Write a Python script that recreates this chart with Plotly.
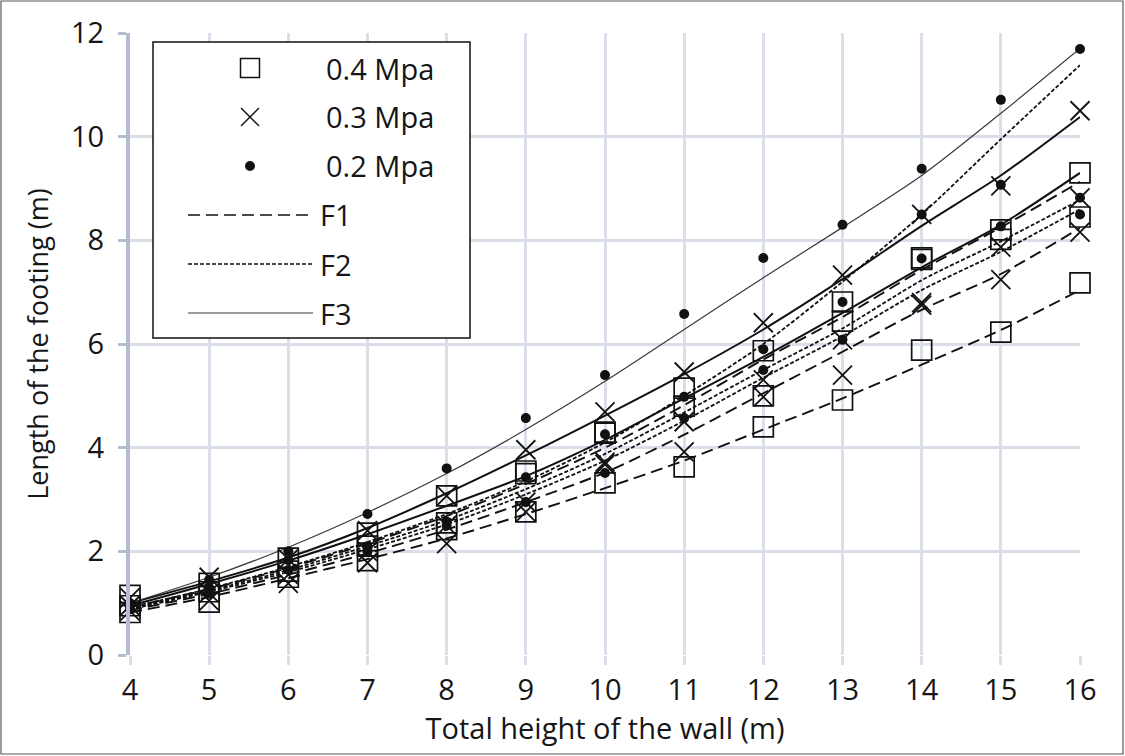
import plotly.graph_objects as go

# ---------------- data ----------------
heights = [4, 5, 6, 7, 8, 9, 10, 11, 12, 13, 14, 15, 16]

# data points (three series per bearing pressure)
sq_top = [1.15, 1.38, 1.87, 2.35, 3.07, 3.55, 4.30, 5.15, 5.87, 6.81, 7.66, 8.20, 9.30]
sq_mid = [0.95, 1.22, 1.62, 2.10, 2.55, 3.50, 4.28, 4.80, 5.00, 6.44, 7.63, 8.02, 8.45]
sq_bot = [0.82, 1.02, 1.50, 1.82, 2.42, 2.76, 3.32, 3.63, 4.40, 4.92, 5.88, 6.23, 7.18]
x_top = [1.10, 1.50, 1.85, 2.40, 3.07, 3.96, 4.69, 5.46, 6.41, 7.33, 8.50, 9.05, 10.50]
x_mid = [0.95, 1.20, 1.55, 2.00, 2.50, 2.95, 3.72, 4.50, 5.31, 6.08, 6.80, 7.87, 8.82]
x_bot = [0.85, 1.05, 1.38, 1.78, 2.15, 2.76, 3.68, 3.92, 4.98, 5.40, 6.75, 7.24, 8.16]
dot_top = [1.00, 1.45, 2.00, 2.72, 3.60, 4.57, 5.40, 6.58, 7.66, 8.30, 9.38, 10.71, 11.69]
dot_mid = [0.95, 1.30, 1.83, 2.10, 2.57, 3.43, 4.26, 4.98, 5.90, 6.81, 8.50, 9.07, 8.82]
dot_bot = [0.88, 1.18, 1.64, 2.00, 2.50, 2.95, 3.51, 4.57, 5.50, 6.08, 7.65, 8.27, 8.50]

# fitted curves
f3_dot = [1.00, 1.50, 2.08, 2.75, 3.50, 4.35, 5.28, 6.28, 7.28, 8.25, 9.25, 10.45, 11.70]
f3_x = [1.00, 1.42, 1.88, 2.45, 3.12, 3.85, 4.62, 5.42, 6.28, 7.25, 8.28, 9.25, 10.38]
f3_sq = [0.95, 1.37, 1.82, 2.33, 2.88, 3.45, 4.15, 4.95, 5.75, 6.60, 7.48, 8.30, 9.30]
f2_dot = [0.92, 1.28, 1.70, 2.18, 2.72, 3.35, 4.10, 5.00, 6.00, 7.20, 8.50, 9.95, 11.38]
f2_x = [0.90, 1.24, 1.64, 2.10, 2.60, 3.20, 3.88, 4.68, 5.50, 6.30, 7.23, 7.98, 8.78]
f2_sq = [0.88, 1.22, 1.60, 2.04, 2.52, 3.10, 3.75, 4.52, 5.35, 6.15, 7.04, 7.78, 8.60]
f1_a = [0.92, 1.27, 1.68, 2.15, 2.68, 3.30, 4.00, 4.82, 5.70, 6.52, 7.43, 8.25, 9.13]
f1_b = [0.86, 1.18, 1.55, 1.96, 2.42, 2.95, 3.52, 4.25, 5.05, 5.85, 6.66, 7.35, 8.24]
f1_c = [0.82, 1.12, 1.48, 1.85, 2.25, 2.72, 3.22, 3.75, 4.35, 4.95, 5.60, 6.27, 7.04]

legend_labels = ["0.4 Mpa", "0.3 Mpa", "0.2 Mpa", "F1", "F2", "F3"]
x_title = "Total height of the wall (m)"
y_title = "Length of the footing (m)"

# ---------------- styles ----------------
INK = "#111111"
TXT = "#161616"
GRID = "#d9dee8"
AXIS = "#b3bdcf"
F1_DASH = "12px,6px"
F2_DASH = "4px,2px"

fig = go.Figure()

curves = [
    (f1_a, F1_DASH, 1.9, INK), (f1_b, F1_DASH, 1.9, INK), (f1_c, F1_DASH, 1.9, INK),
    (f2_dot, F2_DASH, 1.8, INK), (f2_x, F2_DASH, 1.8, INK), (f2_sq, F2_DASH, 1.8, INK),
    (f3_sq, "solid", 2.0, INK), (f3_x, "solid", 2.0, INK), (f3_dot, "solid", 1.2, "#3a3a3a"),
]
for ys, dash, w, c in curves:
    fig.add_trace(go.Scatter(x=heights, y=ys, mode="lines",
                             line=dict(color=c, width=w, dash=dash, shape="spline", smoothing=0.8),
                             showlegend=False, hoverinfo="skip"))

point_sets = [
    (sq_top, "square-open", 20, 1.7), (sq_mid, "square-open", 20, 1.7), (sq_bot, "square-open", 20, 1.7),
    (x_top, "x-thin-open", 19, 1.8), (x_mid, "x-thin-open", 19, 1.8), (x_bot, "x-thin-open", 19, 1.8),
    (dot_top, "circle", 10, 0), (dot_mid, "circle", 10, 0), (dot_bot, "circle", 10, 0),
]
for ys, sym, size, lw in point_sets:
    fig.add_trace(go.Scatter(x=heights, y=ys, mode="markers", cliponaxis=False,
                             marker=dict(symbol=sym, size=size, color=INK,
                                         line=dict(color=INK, width=lw)),
                             showlegend=False))

# ---------------- layout ----------------
L, R, T, B = 130, 45, 33, 101
W, H = 1125, 756
PW, PH = W - L - R, H - T - B


def px(x):
    return (x - L) / PW


def py(y):
    return (H - B - y) / PH


shapes = []
# outer chart border
shapes.append(dict(type="rect", xref="paper", yref="paper", x0=px(1), x1=px(1123), y0=py(754), y1=py(1),
                   line=dict(color="#595959", width=1.2), fillcolor="rgba(0,0,0,0)", layer="above"))
# legend box
shapes.append(dict(type="rect", xref="paper", yref="paper", x0=px(153), x1=px(470), y0=py(338), y1=py(42),
                   line=dict(color=INK, width=1.5), fillcolor="white", layer="above"))
rows = [68, 117, 166, 215, 264, 313]
sx = 250
# square
shapes.append(dict(type="rect", xref="paper", yref="paper", x0=px(sx - 9.5), x1=px(sx + 9.5),
                   y0=py(rows[0] + 9.5), y1=py(rows[0] - 9.5), line=dict(color=INK, width=1.5), layer="above"))
# x
for a, b in [((-9, -9), (9, 9)), ((-9, 9), (9, -9))]:
    shapes.append(dict(type="line", xref="paper", yref="paper", x0=px(sx + a[0]), x1=px(sx + b[0]),
                       y0=py(rows[1] + a[1]), y1=py(rows[1] + b[1]), line=dict(color=INK, width=1.5), layer="above"))
# dot
shapes.append(dict(type="circle", xref="paper", yref="paper", x0=px(sx - 5), x1=px(sx + 5),
                   y0=py(rows[2] + 5), y1=py(rows[2] - 5), fillcolor=INK, line=dict(color=INK, width=0), layer="above"))
# lines
for r, dash, w, c in [(rows[3], F1_DASH, 1.6, INK), (rows[4], F2_DASH, 1.6, INK), (rows[5], "solid", 1.2, "#3a3a3a")]:
    shapes.append(dict(type="line", xref="paper", yref="paper", x0=px(188), x1=px(313), y0=py(r), y1=py(r),
                       line=dict(color=c, width=w, dash=dash), layer="above"))

annotations = []
for i, lab in enumerate(legend_labels):
    xl = 324 if i < 3 else 318
    annotations.append(dict(xref="paper", yref="paper", x=px(xl), y=py(rows[i]), text=lab, showarrow=False,
                            xanchor="left", yanchor="middle", font=dict(size=29, color=TXT)))

fig.update_layout(
    width=W, height=H,
    margin=dict(l=L, r=R, t=T, b=B),
    paper_bgcolor="white", plot_bgcolor="white",
    font=dict(family="Open Sans, Noto Sans, sans-serif", size=29, color=TXT),
    shapes=shapes, annotations=annotations,
    showlegend=False,
)
fig.update_xaxes(range=[4, 16], tick0=4, dtick=1, showgrid=True, gridcolor=GRID, gridwidth=3,
                 zeroline=False, showline=False, ticks="outside", ticklen=9, tickwidth=3, tickcolor=GRID,
                 title=dict(text=x_title, font=dict(size=29), standoff=0), tickfont=dict(size=29))
fig.update_yaxes(range=[0, 12], tick0=0, dtick=2, showgrid=True, gridcolor=GRID, gridwidth=3,
                 zeroline=False, showline=True, linecolor=AXIS, linewidth=4, ticks="outside", ticklen=8,
                 tickwidth=3, tickcolor=AXIS, ticklabelstandoff=8,
                 title=dict(text=y_title, font=dict(size=27), standoff=16), tickfont=dict(size=29))

fig.write_html("out.html")
